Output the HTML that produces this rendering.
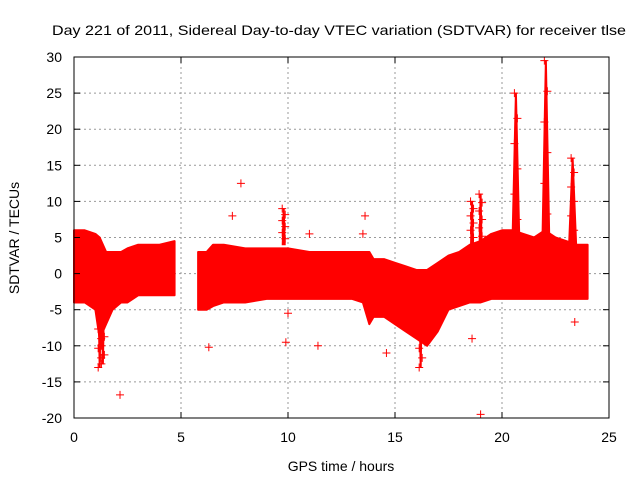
<!DOCTYPE html>
<html><head><meta charset="utf-8"><style>
body{margin:0;background:#fff;}
svg text{font-family:"Liberation Sans",sans-serif;font-size:14px;fill:#000;}
</style></head><body>
<svg id="chart" width="640" height="480">
<text x="52" y="35" textLength="574" lengthAdjust="spacingAndGlyphs">Day 221 of 2011, Sidereal Day-to-day VTEC variation (SDTVAR) for receiver tlse</text>
<text x="341" y="471" text-anchor="middle">GPS time / hours</text>
<text transform="translate(19,238) rotate(-90)" text-anchor="middle">SDTVAR / TECUs</text>
<g id="grid"></g><g id="data"></g><g id="ticks"></g>
<rect x="74" y="57" width="535" height="361" fill="none" stroke="#000" stroke-width="1"/>
</svg>
<script>
const xTicks=[0,5,10,15,20,25];
const yTicks=[-20,-15,-10,-5,0,5,10,15,20,25,30];
const segHours=[[0,0.5,1,1.2,1.5,1.8,2.2,2.5,3,3.5,4,4.7],[5.8,6.2,6.5,7,8,9,10,11,12,13,13.5,13.8,14,14.5,15,15.5,16,16.5,17,17.5,18,18.5,19,19.5,20,20.5,21,21.5,22,22.5,23,23.5,24]];
const segUpper=[[6,6,5.5,5,3,3,3,3.5,4,4,4,4.5],[3,3,4,4,3.5,3.5,3.5,3,3,3,3,3,2,2,1.5,1,0.5,0.5,1.5,2.5,3,4,4.5,5.5,6,6,5.5,5,6,5,4.5,4,4]];
const segLower=[[-4,-4,-5,-9,-7,-5,-4,-4,-3,-3,-3,-3],[-5,-5,-4.5,-4,-4,-3.5,-3.5,-3.5,-3.5,-3.5,-4,-7,-6,-6,-7,-8,-9,-10,-8,-5,-4.5,-4,-4,-3.5,-3.5,-3.5,-3.5,-3.5,-3.5,-3.5,-3.5,-3.5,-3.5]];
const spikeX=[1.2,1.35,20.65,22.05,23.3,18.6,19.0,9.8,16.2];
const spikeTop=[-13,-12.5,25,29.5,16,10,11,9,-13];
const outX=[2.15,7.8,7.4,6.3,9.9,11.4,13.5,13.6,19.0,18.6,23.4,10,11,14.6];
const outY=[-16.8,12.5,8,-10.2,-9.5,-10,5.5,8,-19.5,-9,-6.7,-5.5,5.5,-11];
const X=h=>74+h*21.4, Y=v=>273.6-v*7.22;
const NS="http://www.w3.org/2000/svg";
const grid=document.getElementById('grid'),data=document.getElementById('data'),ticks=document.getElementById('ticks');
function mk(tag,at,parent){const e=document.createElementNS(NS,tag);for(const k in at)e.setAttribute(k,at[k]);parent.appendChild(e);return e;}
xTicks.forEach(t=>{
 if(t>0&&t<25){const g=mk('line',{x1:X(t),x2:X(t),y1:57,y2:418,stroke:'#999','stroke-dasharray':'2,3'},grid);
 
 }
 mk('line',{x1:X(t),x2:X(t),y1:418,y2:412,stroke:'#000'},ticks);
 mk('line',{x1:X(t),x2:X(t),y1:57,y2:63,stroke:'#000'},ticks);
 const l=mk('text',{x:X(t),y:442,'text-anchor':'middle'},ticks);l.textContent=t;
 
 
});
yTicks.forEach(t=>{
 if(t>-20&&t<30){const g=mk('line',{x1:74,x2:609,y1:Y(t),y2:Y(t),stroke:'#999','stroke-dasharray':'2,3'},grid);
 
 }
 mk('line',{x1:74,x2:80,y1:Y(t),y2:Y(t),stroke:'#000'},ticks);
 mk('line',{x1:609,x2:603,y1:Y(t),y2:Y(t),stroke:'#000'},ticks);
 const l=mk('text',{x:62,y:Y(t)+5,'text-anchor':'end'},ticks);l.textContent=t;
 
 
});
segHours.forEach((hs,i)=>{
 let d='M'+hs.map((h,j)=>X(h)+','+Y(segUpper[i][j])).join('L');
 d+='L'+hs.slice().reverse().map((h,j)=>X(h)+','+Y(segLower[i][hs.length-1-j])).join('L')+'Z';
 const p=mk('path',{d:d,fill:'#f00',stroke:'#f00','stroke-width':2,'stroke-linejoin':'round'},data);
 
 
});
function plus(x,y,name){const p=mk('path',{d:`M${x-4},${y}h8M${x},${y-4}v8`,stroke:'#f00','stroke-width':1},data);
 
 }
spikeX.forEach((h,i)=>{
 const v=spikeTop[i];const base=v>0?4:-5;const big=Math.abs(v)>14;
 const w=big?4:1.5;
 const p=mk('path',{d:`M${X(h)-w},${Y(base)}L${X(h)-0.5},${Y(v)}L${X(h)+0.5},${Y(v)}L${X(h)+w},${Y(base)}Z`,fill:'#f00',stroke:'#f00','stroke-width':1},data);
 
 
 const n=6;for(let k=1;k<=n;k++)plus(X(h)+(k%2?1.5:-1.5),Y(base+(v-base)*k/n),'spike-point');
});
outX.forEach((h,i)=>plus(X(h),Y(outY[i]),'outlier-point'));
</script>
</body></html>
